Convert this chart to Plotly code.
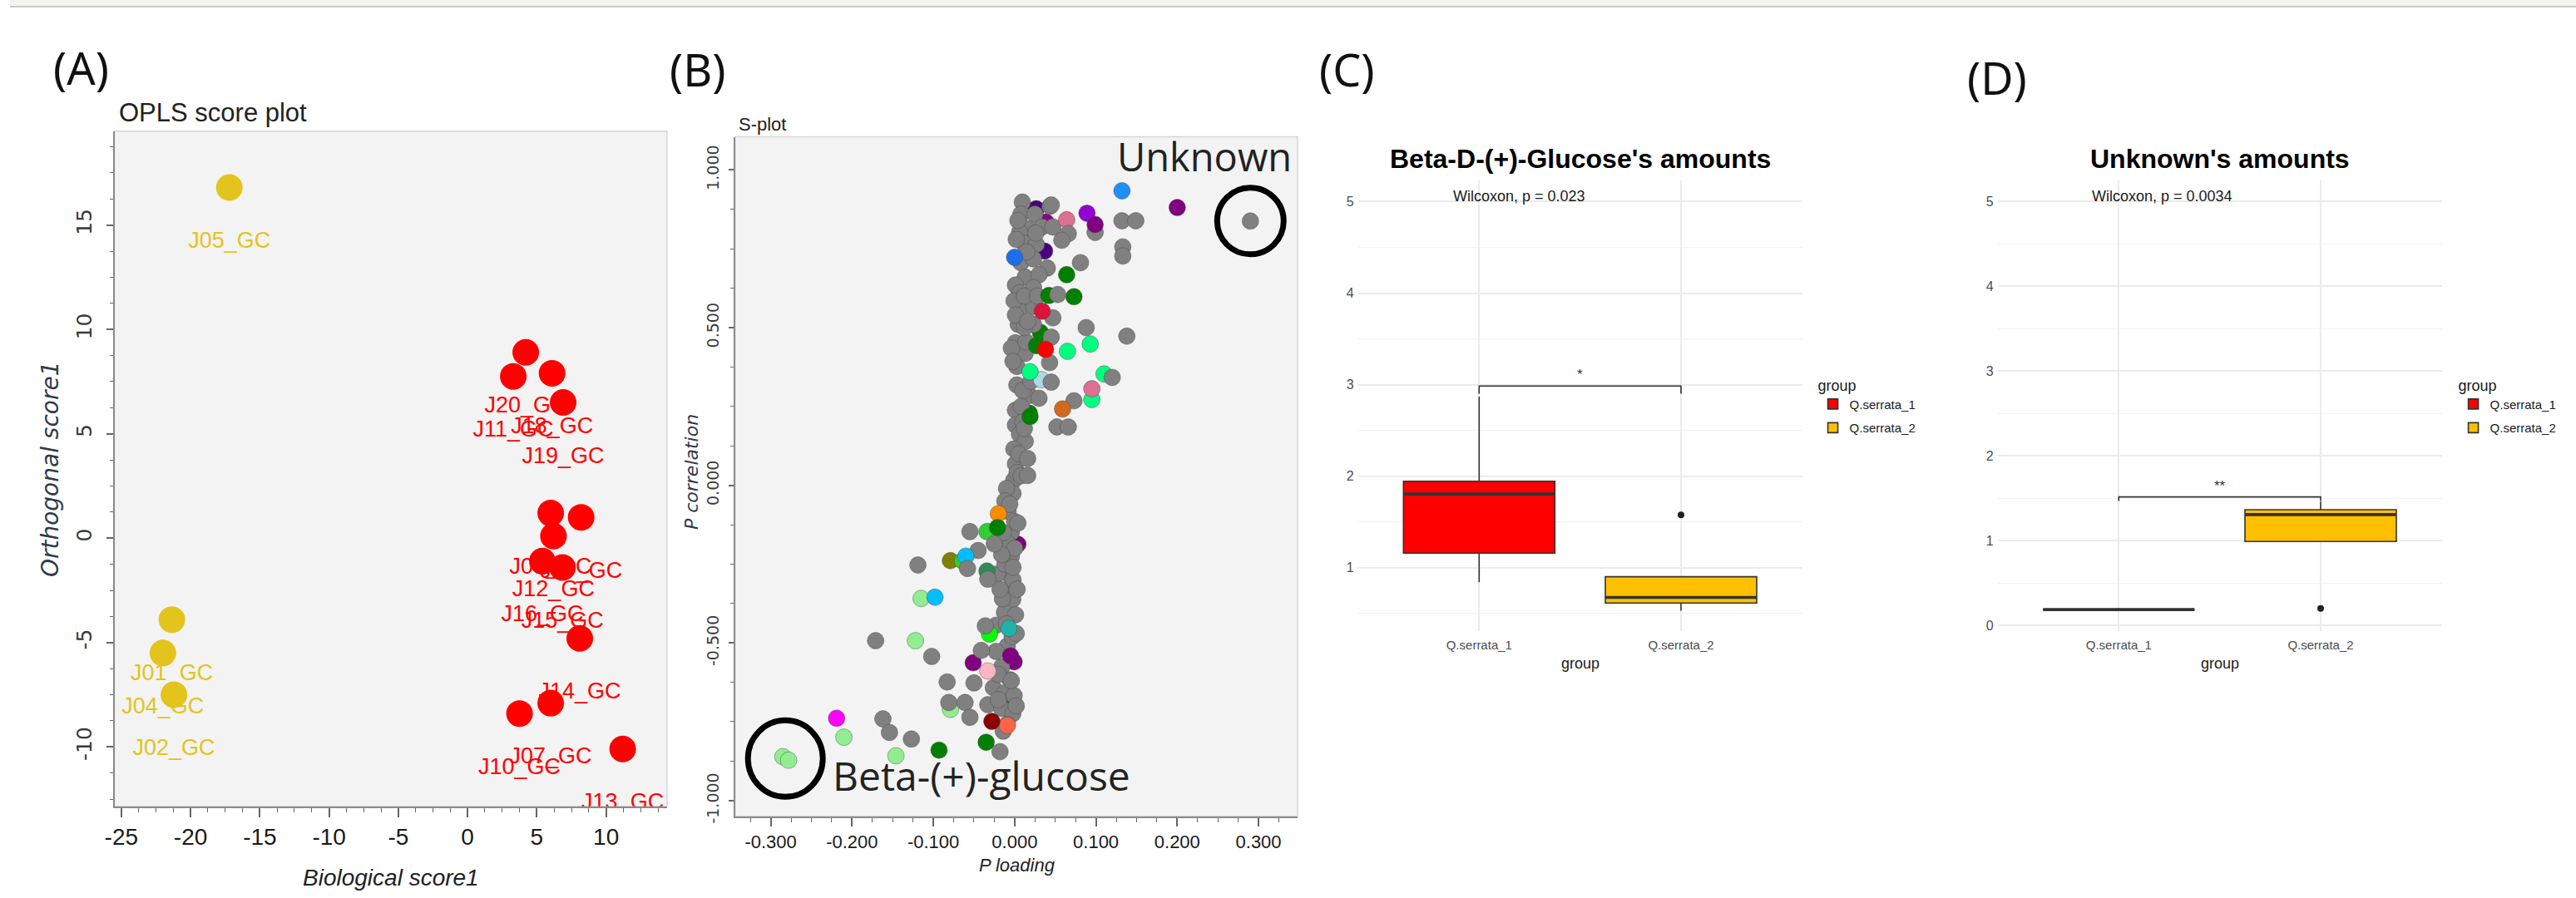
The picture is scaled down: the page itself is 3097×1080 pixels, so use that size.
import plotly.graph_objects as go

W, H = 3097, 1080

NARROW = "Liberation Sans Narrow, Arial Narrow, Liberation Sans, sans-serif"
DEJAVU = "DejaVu Sans, Verdana, sans-serif"
ARIAL = "Liberation Sans, Arial, sans-serif"
LABEL_FONT = "Noto Sans, Open Sans, sans-serif"
CALLOUT_FONT = "Open Sans, Noto Sans, sans-serif"

# ---------------- (A) OPLS score plot ----------------
sample_names = ["J05_GC", "J01_GC", "J04_GC", "J02_GC",
                "J20_GC", "J11_GC", "J18_GC", "J19_GC", "J03_GC", "J17_GC",
                "J12_GC", "J16_GC", "J15_GC", "J14_GC", "J07_GC", "J10_GC", "J13_GC"]
sample_group = ["Q.serrata_2", "Q.serrata_2", "Q.serrata_2", "Q.serrata_2",
                "Q.serrata_1", "Q.serrata_1", "Q.serrata_1", "Q.serrata_1", "Q.serrata_1",
                "Q.serrata_1", "Q.serrata_1", "Q.serrata_1", "Q.serrata_1", "Q.serrata_1",
                "Q.serrata_1", "Q.serrata_1", "Q.serrata_1"]
biological_score = [-17.2, -21.35, -22.0, -21.2,
                    4.2, 3.3, 6.1, 6.9, 6.0, 8.2,
                    6.2, 5.4, 6.85, 8.1, 6.0, 3.75, 11.2]
orthogonal_score = [16.8, -3.9, -5.5, -7.5,
                    8.9, 7.75, 7.9, 6.5, 1.2, 1.0,
                    0.1, -1.1, -1.4, -4.8, -7.9, -8.4, -10.1]
score_x_ticks = [-25, -20, -15, -10, -5, 0, 5, 10]
score_y_ticks = [-10, -5, 0, 5, 10, 15]

# ---------------- (B) S-plot ----------------
# p loading, p(corr) and compound class index for every variable
splot_loading = [
    # coloured variables inside the central stem
    0.0266, 0.0385, 0.0368, 0.0317, 0.018, 0.004, -0.0074, -0.0006,
    # grey variables forming the stem
    0.0095, 0.0436, 0.0078, 0.0249, 0.0163, 0.0334, 0.0061, 0.047, 0.0112, 0.0266,
    0.0078, 0.0232, 0.0402, 0.0129, 0.030, 0.001, 0.0232, 0.0061, 0.0095, 0.0232,
    0.0044, 0.0232, 0.001, 0.0129, 0.0027, -0.0007, -0.004, -0.002, 0.001, 0.015,
    0.002, 0.014, 0.012, 0.012,
    0.0027, 0.018, 0.030, 0.001, 0.001, 0.006, 0.013, -0.001, 0.001, -0.001,
    -0.002, -0.008, -0.004, -0.004, -0.008, -0.021, 0.010, 0.008, 0.010, 0.005,
    0.003, -0.010, -0.012, 0.000, -0.010, -0.012,
    -0.0074, -0.0023, -0.0125, 0.0011, -0.0228, -0.0091, -0.0228, -0.0159, -0.0057, -0.0262,
    -0.0125, -0.0006, -0.0330, -0.0159, -0.0023, -0.0091, -0.003, -0.015, -0.002, -0.020,
    -0.006, 0.004, -0.014, 0.000, -0.016, -0.002, 0.003, -0.018, -0.010, 0.002,
    -0.004, -0.020, 0.002, -0.014, 0.008, 0.012, 0.020, 0.016, 0.028, 0.026,
    0.004,
    # variables spreading to the right
    0.132, 0.200, 0.290, 0.132, 0.149, 0.133, 0.133, 0.064, 0.089, 0.099,
    0.099, 0.066, 0.058, 0.045, 0.081, 0.064, 0.073, 0.042, 0.053, 0.047,
    0.034, 0.088, 0.138, 0.093, 0.065, 0.045, 0.043, 0.110, 0.120, 0.033,
    0.045, 0.095, 0.095, 0.073, 0.059, 0.052, 0.066, 0.027, 0.038, 0.019,
    0.016, 0.000, 0.019,
    # variables spreading to the left
    -0.055, -0.034, -0.020, -0.021, -0.045, -0.025, -0.119, -0.079, -0.064, -0.060,
    -0.058, -0.034, -0.033, -0.115, -0.098, -0.171, -0.122, -0.102, -0.031, -0.036,
    -0.007, -0.051, -0.033, -0.041, -0.083, -0.050, -0.079, -0.081, -0.061, -0.055,
    -0.009, -0.028, -0.219, -0.162, -0.210, -0.154, -0.127, -0.146, -0.093, -0.035,
    -0.018, -0.285, -0.278, -0.005, 0.016,
]
splot_corr = [
    0.877, 0.835, 0.743, 0.485, 0.229, -0.187, -0.693, -0.560,
    0.898, 0.885, 0.860, 0.860, 0.814, 0.819, 0.802, 0.819, 0.768, 0.764,
    0.706, 0.718, 0.689, 0.660, 0.668, 0.635, 0.627, 0.610, 0.568, 0.568,
    0.510, 0.510, 0.452, 0.418, 0.377, 0.585, 0.435, 0.393, 0.540, 0.740,
    0.780, 0.455, 0.600, 0.500,
    0.318, 0.285, 0.276, 0.238, 0.191, 0.162, 0.139, 0.115, 0.068, 0.016,
    -0.026, -0.083, -0.149, -0.225, -0.281, -0.281, 0.300, 0.250, 0.200, 0.100,
    0.040, -0.010, -0.050, -0.115, -0.180, -0.250,
    -0.329, -0.362, -0.403, -0.411, -0.444, -0.510, -0.527, -0.576, -0.617, -0.642,
    -0.659, -0.667, -0.696, -0.708, -0.725, -0.758, -0.480, -0.360, -0.300, -0.600,
    -0.060, -0.120, -0.150, -0.200, -0.220, -0.260, -0.330, -0.330, -0.440, -0.470,
    -0.620, -0.680, -0.700, -0.780, 0.030, 0.180, 0.330, 0.520, 0.600, 0.800,
    0.840,
    0.934, 0.881, 0.838, 0.839, 0.839, 0.756, 0.727, 0.842, 0.863, 0.802,
    0.827, 0.798, 0.777, 0.889, 0.706, 0.668, 0.598, 0.602, 0.605, 0.531,
    0.552, 0.500, 0.473, 0.448, 0.425, 0.470, 0.389, 0.353, 0.342, 0.335,
    0.327, 0.272, 0.306, 0.268, 0.242, 0.185, 0.185, 0.443, 0.431, 0.218,
    0.085, 0.723, 0.360,
    -0.147, -0.147, -0.090, -0.134, -0.207, -0.186, -0.253, -0.239, -0.240, -0.225,
    -0.264, -0.272, -0.298, -0.359, -0.355, -0.493, -0.493, -0.543, -0.472, -0.446,
    -0.454, -0.563, -0.589, -0.524, -0.624, -0.627, -0.711, -0.689, -0.689, -0.736,
    -0.762, -0.749, -0.739, -0.741, -0.799, -0.784, -0.805, -0.858, -0.840, -0.815,
    -0.845, -0.861, -0.872, -0.541, 0.031,
]
splot_class = [
    24, 25, 24, 5, 5, 2, 5, 2,
    0, 0, 0, 0, 0, 0, 0, 0, 0, 0,
    0, 0, 0, 0, 0, 0, 0, 0, 0, 0,
    0, 0, 0, 0, 0, 0, 0, 0, 0, 0,
    0, 0, 0, 0,
    0, 0, 0, 0, 0, 0, 0, 0, 0, 0,
    0, 0, 0, 0, 0, 0, 0, 0, 0, 0,
    0, 0, 0, 0, 0, 0,
    0, 0, 0, 0, 0, 0, 0, 0, 0, 0,
    0, 0, 0, 0, 0, 0, 0, 0, 0, 0,
    0, 0, 0, 0, 0, 0, 0, 0, 0, 0,
    0, 0, 0, 0, 0, 0, 0, 0, 0, 0,
    0,
    1, 2, 0, 0, 0, 0, 0, 3, 4, 0,
    2, 0, 0, 0, 0, 5, 5, 5, 0, 0,
    6, 0, 0, 7, 7, 0, 0, 7, 0, 8,
    0, 7, 3, 0, 9, 0, 0, 5, 10, 5,
    0, 11, 7,
    0, 12, 13, 5, 0, 0, 0, 14, 12, 15,
    0, 16, 0, 17, 15, 0, 17, 0, 18, 0,
    19, 2, 20, 0, 0, 0, 17, 0, 0, 0,
    22, 21, 23, 0, 17, 0, 0, 17, 5, 5,
    0, 17, 17, 2, 0,
]
class_colors = ["#808080", "#1e90ff", "#800080", "#db7093", "#9400d3", "#008000",
                "#dc143c", "#00ff7f", "#add8e6", "#d2691e", "#ff0000", "#1c6fe8",
                "#32cd32", "#ff8c00", "#808000", "#00bfff", "#2e8b57", "#90ee90",
                "#00ff00", "#20b2aa", "#ffb6c1", "#8b0000", "#ff6347", "#ff00ff",
                "#4b0082", "#8b008b"]
splot_x_ticks = [-0.3, -0.2, -0.1, 0.0, 0.1, 0.2, 0.3]
splot_y_ticks = [-1.0, -0.5, 0.0, 0.5, 1.0]

# highlighted variables
unknown_loading, unknown_corr = 0.290, 0.838
glucose_loading, glucose_corr = -0.282, -0.867

# ---------------- (C), (D) box plots ----------------
box_groups = ["Q.serrata_1", "Q.serrata_2"]
box_positions = [1, 2]

glc_q1 = [1.158, 0.613]
glc_median = [1.805, 0.674]
glc_q3 = [1.944, 0.901]
glc_lower = [0.84, 0.529]
glc_upper = [2.87, 0.901]
glc_outlier_pos = [2]
glc_outlier_val = [1.576]
glc_bracket_y = 2.985
glc_label = "Wilcoxon, p = 0.023"
glc_signif = "*"

unk_q1 = [0.187, 0.989]
unk_median = [0.187, 1.307]
unk_q3 = [0.187, 1.364]
unk_lower = [0.187, 0.989]
unk_upper = [0.205, 1.46]
unk_outlier_pos = [2]
unk_outlier_val = [0.20]
unk_bracket_y = 1.515
unk_label = "Wilcoxon, p = 0.0034"
unk_signif = "**"

box_y_ticks_c = [1, 2, 3, 4, 5]
box_y_ticks_d = [0, 1, 2, 3, 4, 5]

group_colors = {"Q.serrata_1": "#ff0000", "Q.serrata_2": "#e2c41c"}
box_fill = {"Q.serrata_1": "#ff0000", "Q.serrata_2": "#ffc000"}


def px_x(p):
    return p / W


def px_y(p):
    return 1 - p / H


def dom_x(l, r):
    return [px_x(l), px_x(r)]


def dom_y(t, b):
    return [px_y(b), px_y(t)]


fig = go.Figure()

# ---- (A) labels first so the points sit on top of them
a_colors = [group_colors[g] for g in sample_group]
fig.add_trace(go.Scatter(
    x=biological_score, y=orthogonal_score, mode="markers+text",
    text=sample_names, textposition="bottom center",
    marker=dict(size=82, color="rgba(0,0,0,0)"),
    textfont=dict(family=NARROW, size=27, color=a_colors),
    cliponaxis=True, hoverinfo="skip", showlegend=False, xaxis="x", yaxis="y"))
fig.add_trace(go.Scatter(
    x=biological_score, y=orthogonal_score, mode="markers",
    marker=dict(size=32, color=a_colors, line=dict(width=0)),
    cliponaxis=True, showlegend=False, xaxis="x", yaxis="y",
    text=sample_names, hoverinfo="text"))

# ---- (B) S-plot
fig.add_trace(go.Scatter(
    x=splot_loading, y=splot_corr, mode="markers",
    marker=dict(size=20, color=[class_colors[c] for c in splot_class],
                line=dict(width=1, color="rgba(70,70,70,0.45)")),
    showlegend=False, xaxis="x2", yaxis="y2"))


# ---- (C), (D) box plots
def add_boxes(q1, med, q3, lo, hi, out_pos, out_val, bracket_y, tip_l, tip_r,
              xa, ya, legend):
    for i, g in enumerate(box_groups):
        fig.add_trace(go.Box(
            x=[box_positions[i]], q1=[q1[i]], median=[med[i]], q3=[q3[i]],
            lowerfence=[lo[i]], upperfence=[hi[i]], width=0.75,
            fillcolor=box_fill[g], line=dict(color="#333333", width=1.6),
            whiskerwidth=0, boxpoints=False, name=g, legend=legend,
            legendgroup=legend + g,
            xaxis=xa, yaxis=ya, showlegend=True))
        fig.add_trace(go.Scatter(
            x=[box_positions[i] - 0.375, box_positions[i] + 0.375], y=[med[i], med[i]],
            mode="lines", line=dict(color="#333333", width=3.6),
            showlegend=False, hoverinfo="skip", xaxis=xa, yaxis=ya))
    fig.add_trace(go.Scatter(
        x=out_pos, y=out_val, mode="markers",
        marker=dict(size=8, color="#222222"), showlegend=False, xaxis=xa, yaxis=ya))
    fig.add_trace(go.Scatter(
        x=[box_positions[0], box_positions[0], box_positions[1], box_positions[1]],
        y=[bracket_y - tip_l, bracket_y, bracket_y, bracket_y - tip_r],
        mode="lines", line=dict(color="#333333", width=1.6),
        showlegend=False, hoverinfo="skip", xaxis=xa, yaxis=ya))


add_boxes(glc_q1, glc_median, glc_q3, glc_lower, glc_upper, glc_outlier_pos,
          glc_outlier_val, glc_bracket_y, 0.085, 0.085, "x3", "y3", "legend")
add_boxes(unk_q1, unk_median, unk_q3, unk_lower, unk_upper, unk_outlier_pos,
          unk_outlier_val, unk_bracket_y, 0.047, 0.047, "x4", "y4", "legend2")

# ---------------- axes ----------------
tick_grey = "#666666"
score_axis_common = dict(showgrid=False, zeroline=False, showline=True,
                         linecolor="#8a8a8a", linewidth=2, ticks="outside",
                         tickcolor=tick_grey, tickwidth=1.5, mirror=False)

xaxis_a = dict(score_axis_common, domain=dom_x(126, 793), range=[-25.5, 14.4],
               anchor="y", tickmode="array", tickvals=score_x_ticks,
               ticktext=[str(v) for v in score_x_ticks], ticklen=11,
               tickfont=dict(family=NARROW, size=28, color="#1a1a1a"),
               minor=dict(tickmode="linear", tick0=0, dtick=1.25, ticks="outside",
                          ticklen=5, tickcolor=tick_grey, tickwidth=1.2))
yaxis_a = dict(score_axis_common, domain=dom_y(159, 978), range=[-12.85, 19.5],
               anchor="x", tickmode="array", tickvals=score_y_ticks,
               ticktext=[str(v) for v in score_y_ticks], ticklen=8, tickangle=-90,
               ticklabelstandoff=8,
               tickfont=dict(family=DEJAVU, size=25, color="#3a3a3a"),
               minor=dict(tickmode="linear", tick0=0, dtick=1.25, ticks="outside",
                          ticklen=4, tickcolor=tick_grey, tickwidth=1.2))
xaxis_b = dict(score_axis_common, domain=dom_x(875, 1554), range=[-0.344, 0.348],
               anchor="y2", tickmode="array", tickvals=splot_x_ticks,
               ticktext=[f"{v:.3f}" for v in splot_x_ticks], ticklen=10,
               tickfont=dict(family=NARROW, size=22, color="#1a1a1a"),
               minor=dict(tickmode="linear", tick0=0, dtick=0.025, ticks="outside",
                          ticklen=5, tickcolor=tick_grey, tickwidth=1.2))
yaxis_b = dict(score_axis_common, domain=dom_y(166, 990), range=[-1.05, 1.105],
               anchor="x2", tickmode="array", tickvals=splot_y_ticks,
               ticktext=[f"{v:.3f}" for v in splot_y_ticks], ticklen=6, tickangle=-90,
               ticklabelstandoff=4,
               tickfont=dict(family=DEJAVU, size=19, color="#3a3a3a"),
               minor=dict(tickmode="linear", tick0=0, dtick=0.125, ticks="outside",
                          ticklen=4, tickcolor=tick_grey, tickwidth=1.2))

box_axis_common = dict(showline=False, zeroline=False, ticks="",
                       showgrid=True, gridcolor="#ebebeb", gridwidth=1.6)
xaxis_c = dict(box_axis_common, domain=dom_x(1627, 2163), range=[0.4, 2.6], anchor="y3",
               tickmode="array", tickvals=box_positions, ticktext=box_groups,
               ticklabelstandoff=6,
               tickfont=dict(family=ARIAL, size=15, color="#4d4d4d"))
yaxis_c = dict(box_axis_common, domain=dom_y(219, 765), range=[0.31, 5.23], anchor="x3",
               tickmode="array", tickvals=box_y_ticks_c,
               ticktext=[str(v) for v in box_y_ticks_c], ticklabelstandoff=4,
               tickfont=dict(family=ARIAL, size=16, color="#4d4d4d"),
               minor=dict(tickmode="linear", tick0=0, dtick=0.5, showgrid=True,
                          gridcolor="#f2f2f2", gridwidth=1.1))
xaxis_d = dict(box_axis_common, domain=dom_x(2399, 2935), range=[0.4, 2.6], anchor="y4",
               tickmode="array", tickvals=box_positions, ticktext=box_groups,
               ticklabelstandoff=6,
               tickfont=dict(family=ARIAL, size=15, color="#4d4d4d"))
yaxis_d = dict(box_axis_common, domain=dom_y(219, 765), range=[-0.063, 5.245], anchor="x4",
               tickmode="array", tickvals=box_y_ticks_d,
               ticktext=[str(v) for v in box_y_ticks_d], ticklabelstandoff=4,
               tickfont=dict(family=ARIAL, size=16, color="#4d4d4d"),
               minor=dict(tickmode="linear", tick0=0, dtick=0.5, showgrid=True,
                          gridcolor="#f2f2f2", gridwidth=1.1))

# ---------------- text ----------------


def note(text, x, y, size, family, color="#222222", xanchor="center", yanchor="middle",
         angle=0, style="normal", weight="normal"):
    return dict(text=text, x=px_x(x), y=px_y(y), xref="paper", yref="paper",
                showarrow=False, xanchor=xanchor, yanchor=yanchor, textangle=angle,
                font=dict(family=family, size=size, color=color, style=style, weight=weight))


annotations = [
    note("(A)", 86, 82, 54, LABEL_FONT, color="#111111"),
    note("(B)", 830, 84, 54, LABEL_FONT, color="#111111"),
    note("(C)", 1614, 84, 54, LABEL_FONT, color="#111111"),
    note("(D)", 2398, 94, 54, LABEL_FONT, color="#111111"),
    note("OPLS score plot", 129, 137, 31, NARROW, xanchor="left"),
    note("S-plot", 877, 151, 22, NARROW, xanchor="left"),
    note("Biological score1", 460, 1064, 28, NARROW, style="italic"),
    note("Orthogonal score1", 48, 569, 28, DEJAVU, color="#2f3b4a", angle=-90, style="italic"),
    note("P loading", 1216, 1049, 22, NARROW, style="italic"),
    note("P correlation", 822, 572, 22, DEJAVU, color="#2f3b4a", angle=-90, style="italic"),
    note("Unknown", 1334, 190, 47, CALLOUT_FONT, xanchor="left"),
    note("Beta-(+)-glucose", 991, 940, 48, CALLOUT_FONT, xanchor="left"),
    note("Beta-D-(+)-Glucose's amounts", 1895, 193, 32, ARIAL, color="#000000", weight="bold"),
    note("group", 1895, 805, 18, ARIAL, color="#1a1a1a"),
    note("Unknown's amounts", 2667, 193, 32, ARIAL, color="#000000", weight="bold"),
    note("group", 2667, 805, 18, ARIAL, color="#1a1a1a"),
]
# p-value labels and significance marks in data space
for xa, ya, lab, sig, by, lx in [("x3", "y3", glc_label, glc_signif, glc_bracket_y, 0.864),
                                 ("x4", "y4", unk_label, unk_signif, unk_bracket_y, 0.858)]:
    annotations.append(dict(text=lab, x=lx, y=5.06, xref=xa, yref=ya, showarrow=False,
                            xanchor="left", yanchor="middle",
                            font=dict(family=ARIAL, size=18, color="#1a1a1a")))
    annotations.append(dict(text=sig, x=1.5, y=by, xref=xa, yref=ya, showarrow=False,
                            xanchor="center", yanchor="bottom", yshift=2,
                            font=dict(family=ARIAL, size=17, color="#333333")))

# ---------------- shapes ----------------
shapes = [
    # window strip along the top edge
    dict(type="rect", xref="paper", yref="paper", x0=0, x1=1, y0=px_y(7), y1=1,
         fillcolor="#f5f3ee", line=dict(width=0), layer="below"),
    dict(type="line", xref="paper", yref="paper", x0=0, x1=1, y0=px_y(8), y1=px_y(8),
         line=dict(color="#c9c9c9", width=2)),
    # plot backgrounds of the two SIMCA panels
    dict(type="rect", xref="x domain", yref="y domain", x0=0, x1=1, y0=0, y1=1,
         fillcolor="#f3f3f3", line=dict(color="#d6d6d6", width=1.5), layer="below"),
    dict(type="rect", xref="x2 domain", yref="y2 domain", x0=0, x1=1, y0=0, y1=1,
         fillcolor="#f3f3f3", line=dict(color="#d6d6d6", width=1.5), layer="below"),
    # rings around the highlighted variables
    dict(type="circle", xref="x2", yref="y2", xsizemode="pixel", ysizemode="pixel",
         xanchor=unknown_loading, yanchor=unknown_corr, x0=-40, x1=40, y0=-40, y1=40,
         line=dict(color="#000000", width=7)),
    dict(type="circle", xref="x2", yref="y2", xsizemode="pixel", ysizemode="pixel",
         xanchor=glucose_loading, yanchor=glucose_corr, x0=-45, x1=45, y0=-46, y1=46,
         line=dict(color="#000000", width=7)),
]

legend_common = dict(xanchor="left", yanchor="top", bgcolor="rgba(0,0,0,0)",
                     font=dict(family=ARIAL, size=15, color="#1a1a1a"),
                     title=dict(text="group", font=dict(family=ARIAL, size=18, color="#1a1a1a")),
                     itemwidth=30, tracegroupgap=6)

fig.update_layout(
    width=W, height=H, margin=dict(l=0, r=0, t=0, b=0),
    paper_bgcolor="#ffffff", plot_bgcolor="rgba(0,0,0,0)",
    xaxis=xaxis_a, yaxis=yaxis_a, xaxis2=xaxis_b, yaxis2=yaxis_b,
    xaxis3=xaxis_c, yaxis3=yaxis_c, xaxis4=xaxis_d, yaxis4=yaxis_d,
    annotations=annotations, shapes=shapes,
    legend=dict(legend_common, x=px_x(2180), y=px_y(450)),
    legend2=dict(legend_common, x=px_x(2953), y=px_y(450)),
    hovermode="closest",
)

fig.write_html("out.html")
